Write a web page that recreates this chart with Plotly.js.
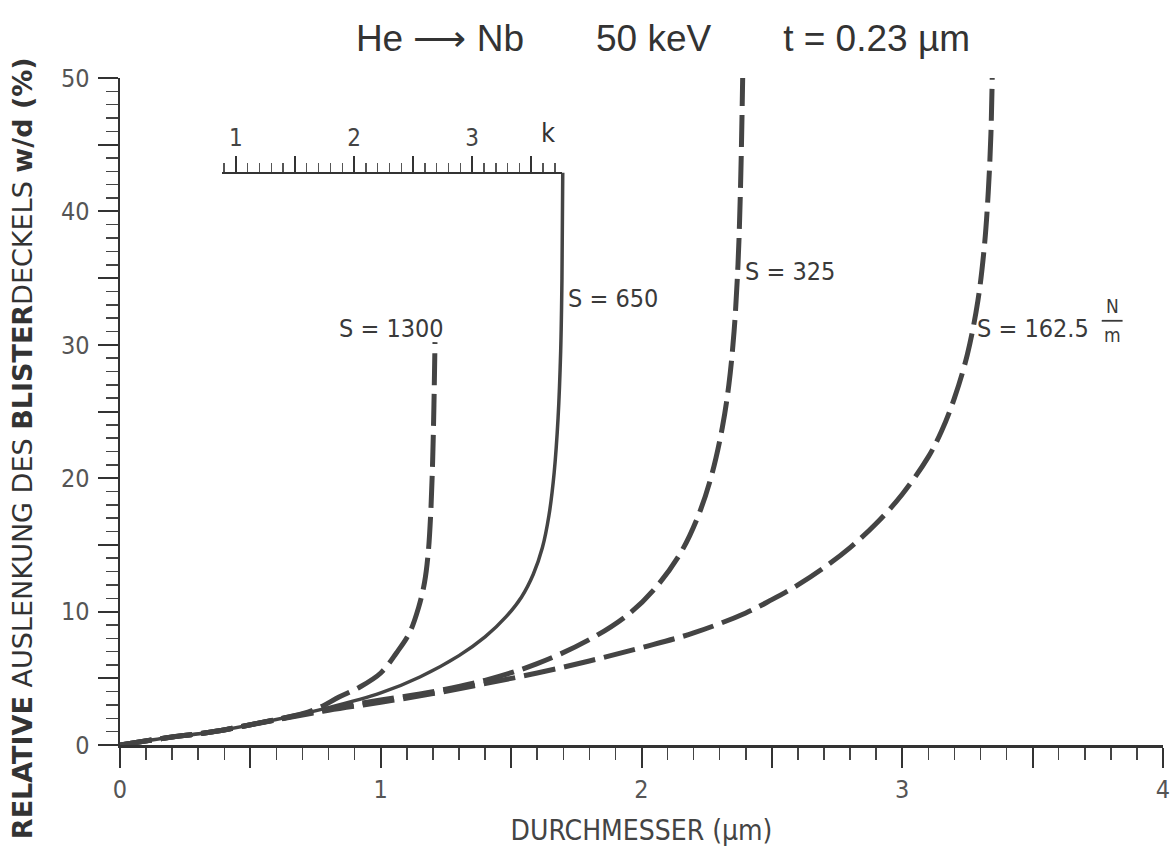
<!DOCTYPE html>
<html>
<head>
<meta charset="utf-8">
<script src="https://cdn.plot.ly/plotly-3.0.1.min.js"></script>
<style>html,body{margin:0;padding:0;background:#fff;}#chart{width:1173px;height:854px;}</style>
</head>
<body>
<div id="chart"></div>
<script>
// Diameter (µm) and relative deflection w/d (%) for each surface stress S (N/m)
const d1300 = [0, 0.2, 0.35, 0.59, 0.7, 0.77, 0.84, 0.92, 1.0, 1.06, 1.11, 1.145, 1.168, 1.182, 1.192, 1.199, 1.204, 1.208];
const w1300 = [0, 0.6, 0.97, 1.87, 2.35, 2.85, 3.6, 4.35, 5.4, 6.9, 8.4, 10.3, 12.2, 14.4, 17.5, 21.3, 25.5, 30.2];

const d650 = [0, 0.2, 0.35, 0.59, 0.8, 1.0, 1.15, 1.3, 1.4, 1.48, 1.54, 1.585, 1.62, 1.645, 1.665, 1.68, 1.69, 1.695, 1.698];
const w650 = [0, 0.6, 0.97, 1.87, 2.8, 3.9, 5.1, 6.7, 8.1, 9.6, 11.1, 12.8, 14.8, 17.2, 20.4, 24.5, 29.5, 35.0, 42.9];

const d325 = [0, 0.2, 0.35, 0.59, 0.8, 1.0, 1.2, 1.4, 1.6, 1.8, 1.95, 2.05, 2.15, 2.22, 2.27, 2.31, 2.335, 2.355, 2.37, 2.38, 2.388];
const w325 = [0, 0.6, 0.97, 1.87, 2.7, 3.37, 4.0, 4.85, 6.1, 7.9, 9.8, 11.7, 14.4, 17.3, 20.3, 23.8, 27.0, 31.0, 36.0, 42.0, 50.0];

const d1625 = [0, 0.2, 0.35, 0.59, 0.8, 1.0, 1.2, 1.4, 1.6, 1.8, 2.0, 2.2, 2.4, 2.5, 2.6, 2.7, 2.8, 2.9, 3.0, 3.1, 3.15, 3.2, 3.25, 3.29, 3.315, 3.33, 3.34, 3.345];
const w1625 = [0, 0.6, 0.97, 1.85, 2.6, 3.2, 3.85, 4.6, 5.4, 6.3, 7.3, 8.4, 9.9, 10.9, 12.0, 13.3, 14.8, 16.6, 18.8, 21.6, 23.5, 26.0, 29.3, 33.3, 37.4, 41.5, 45.8, 50.0];

// Axis ticks
const xTickVals = [0, 0.5, 1, 1.5, 2, 2.5, 3, 3.5, 4];
const xTickText = ['0', '', '1', '', '2', '', '3', '', '4'];
const yTickVals = [0, 5, 10, 15, 20, 25, 30, 35, 40, 45, 50];
const yTickText = ['0', '', '10', '', '20', '', '30', '', '40', '', '50'];
const kTickVals = [1, 1.5, 2, 2.5, 3, 3.5];
const kTickText = ['1', '', '2', '', '3', ''];
const kRange = [0.88, 3.76];

const ink = '#444444';
const fam = 'DejaVu Sans Condensed, Roboto, sans-serif';
const labelFont = {family: fam, size: 25, color: '#3a3a3a'};

const traces = [
  {x: d1300, y: w1300, mode: 'lines', line: {color: ink, width: 5, dash: '32px,9px', shape: 'spline', smoothing: 1}, name: 'S = 1300'},
  {x: d650, y: w650, mode: 'lines', line: {color: ink, width: 3.5, shape: 'spline', smoothing: 1}, name: 'S = 650'},
  {x: d325, y: w325, mode: 'lines', line: {color: ink, width: 5, dash: '32px,9px', shape: 'spline', smoothing: 1}, name: 'S = 325'},
  {x: d1625, y: w1625, mode: 'lines', line: {color: ink, width: 5, dash: '32px,9px', shape: 'spline', smoothing: 1}, name: 'S = 162.5'},
  {x: [null], y: [null], xaxis: 'x2', yaxis: 'y', mode: 'lines', showlegend: false, hoverinfo: 'skip'}
];

const sp = '\u00a0'.repeat(7);
const layout = {
  width: 1173, height: 854,
  margin: {l: 120, r: 10, t: 78, b: 109},
  paper_bgcolor: '#ffffff', plot_bgcolor: 'rgba(0,0,0,0)',
  showlegend: false,
  title: {
    text: 'He \u27F6 Nb' + sp + '50 keV' + sp + 't = 0.23 \u00b5m',
    font: {family: 'Liberation Sans, Arial, sans-serif', size: 37, color: '#333'},
    x: 0.5652, xanchor: 'center', y: 0.955, yanchor: 'middle'
  },
  xaxis: {
    range: [0, 4], showgrid: false, zeroline: false,
    showline: true, linecolor: '#333', linewidth: 3,
    ticks: 'outside', tickvals: xTickVals, ticktext: xTickText, ticklen: 20, tickwidth: 2, tickcolor: '#333',
    minor: {dtick: 0.1, ticks: 'outside', ticklen: 12, tickwidth: 1.5, tickcolor: '#444'},
    tickfont: {family: fam, size: 25, color: '#555'},
    title: {text: 'DURCHMESSER (\u00b5m)', font: {family: fam, size: 28, color: '#444'}, standoff: 18},
    fixedrange: true
  },
  yaxis: {
    range: [0, 50], showgrid: false, zeroline: false,
    showline: true, linecolor: '#333', linewidth: 2.5,
    ticks: 'outside', tickvals: yTickVals, ticktext: yTickText, ticklen: 20, tickwidth: 2, tickcolor: '#333',
    minor: {dtick: 1, ticks: 'outside', ticklen: 12, tickwidth: 1.5, tickcolor: '#444'},
    tickfont: {family: fam, size: 25, color: '#555'},
    ticklabelstandoff: 3,
    fixedrange: true
  },
  xaxis2: {
    range: kRange, domain: [0.0975, 0.4238], anchor: 'free', position: 0.8576, side: 'top',
    showgrid: false, zeroline: false, showline: true, linecolor: '#333', linewidth: 2.5,
    ticks: 'outside', tickvals: kTickVals, ticktext: kTickText, ticklen: 16, tickwidth: 2, tickcolor: '#333',
    minor: {dtick: 0.1, tick0: 0, ticks: 'outside', ticklen: 9, tickwidth: 1.3, tickcolor: '#555'},
    tickfont: {family: fam, size: 24, color: '#444'},
    fixedrange: true
  },
  annotations: [
    {xref: 'paper', yref: 'paper', x: -0.094, y: 0.445, xanchor: 'center', yanchor: 'middle', textangle: -90, showarrow: false,
     text: '<b>RELATIVE</b> AUSLENKUNG DES <b>BLISTER</b>DECKELS <b>w/d (%)</b>',
     font: {family: 'DejaVu Sans, Roboto, sans-serif', size: 27, color: '#333'}},
    {xref: 'x', yref: 'y', x: 1.04, y: 31.2, xanchor: 'center', yanchor: 'middle', showarrow: false, text: 'S = 1300', font: labelFont},
    {xref: 'x', yref: 'y', x: 1.71, y: 33.5, xanchor: 'left', yanchor: 'middle', showarrow: false, text: 'S = 650', font: labelFont},
    {xref: 'x', yref: 'y', x: 2.39, y: 35.5, xanchor: 'left', yanchor: 'middle', showarrow: false, text: 'S = 325', font: labelFont},
    {xref: 'x', yref: 'y', x: 3.28, y: 31.2, xanchor: 'left', yanchor: 'middle', showarrow: false, text: 'S = 162.5', font: labelFont},
    {xref: 'x', yref: 'y', x: 3.805, y: 31.9, xanchor: 'center', yanchor: 'bottom', showarrow: false, text: 'N', font: {family: fam, size: 19, color: '#3a3a3a'}},
    {xref: 'x', yref: 'y', x: 3.805, y: 31.7, xanchor: 'center', yanchor: 'top', showarrow: false, text: 'm', font: {family: fam, size: 19, color: '#3a3a3a'}},
    {xref: 'x', yref: 'y', x: 1.64, y: 45.9, xanchor: 'center', yanchor: 'middle', showarrow: false, text: 'k', font: {family: fam, size: 27, color: '#333'}}
  ],
  shapes: [
    {type: 'line', xref: 'x', yref: 'y', x0: 3.765, x1: 3.845, y0: 31.8, y1: 31.8, line: {color: '#3a3a3a', width: 1.8}}
  ]
};

Plotly.newPlot('chart', traces, layout, {displayModeBar: false, staticPlot: true});
</script>
</body>
</html>
